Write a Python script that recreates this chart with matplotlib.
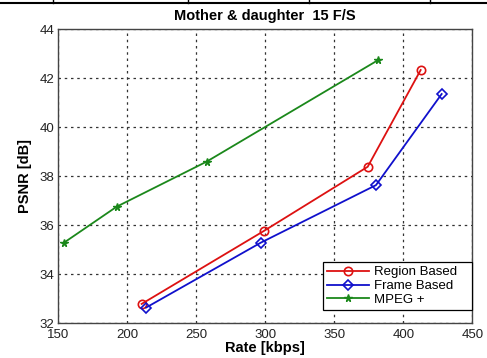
import numpy as np
import matplotlib
matplotlib.use("Agg")
import matplotlib.pyplot as plt
from matplotlib.lines import Line2D

plt.rcParams['font.family'] = ['Liberation Sans', 'DejaVu Sans']

# data
region_rate = [210.4, 299.0, 374.2, 412.6]
region_psnr = [32.79, 35.77, 38.39, 42.34]

frame_rate = [213.6, 296.7, 380.2, 427.8]
frame_psnr = [32.64, 35.29, 37.64, 41.36]

mpeg_rate = [154.1, 192.3, 257.5, 381.9]
mpeg_psnr = [35.29, 36.76, 38.60, 42.75]

x_ticks = [150, 200, 250, 300, 350, 400, 450]
y_ticks = [32, 34, 36, 38, 40, 42, 44]

fig = plt.figure(figsize=(4.87, 3.58), dpi=100)
ax = fig.add_axes([0.1197, 0.097, 0.8501, 0.821])

ax.plot(region_rate, region_psnr, color='#dd1111', lw=1.3, marker='o',
        ms=6, mfc='none', mew=1.2, label='Region Based')
ax.plot(frame_rate, frame_psnr, color='#1010cc', lw=1.3, marker='D',
        ms=5, mfc='none', mew=1.2, label='Frame Based')
ax.plot(mpeg_rate, mpeg_psnr, color='#1b881b', lw=1.3, marker='*',
        ms=5.5, label='MPEG +')

ax.set_xlim(150, 450)
ax.set_ylim(32, 44)
ax.set_xticks(x_ticks)
ax.set_yticks(y_ticks)
ax.grid(True, color='#333333', linestyle=(0, (2, 3)), linewidth=0.9)
ax.tick_params(direction='in', length=0, labelsize=9.5, labelcolor='#222222')
ax.tick_params(axis='x', pad=4)
ax.tick_params(axis='y', pad=3)
for s in ax.spines.values():
    s.set_color('#444444')
    s.set_linewidth(1.0)

ax.set_title('Mother & daughter  15 F/S', fontsize=10.5, fontweight='bold', pad=7)
ax.set_xlabel('Rate [kbps]', fontsize=10.5, fontweight='bold', labelpad=0)
ax.set_ylabel('PSNR [dB]', fontsize=10.5, fontweight='bold', labelpad=5)

leg = ax.legend(loc='lower right', bbox_to_anchor=(0.639, 0.045, 0.361, 0.176),
                mode='expand', fontsize=9.5, handlelength=3.2, borderaxespad=0,
                fancybox=False, framealpha=1, edgecolor='black',
                labelspacing=0.12, handletextpad=0.4, borderpad=0.3)
leg.get_frame().set_linewidth(0.9)

# table border remnant at the top of the image
fig.add_artist(Line2D([0, 1], [0.991, 0.991], color='black', lw=1.5,
                      transform=fig.transFigure))
for xp in [53, 188, 309, 430]:
    fig.add_artist(Line2D([xp / 487, xp / 487], [0.991, 1.0], color='black',
                          lw=1.0, transform=fig.transFigure))

fig.savefig('out.png', dpi=100)
